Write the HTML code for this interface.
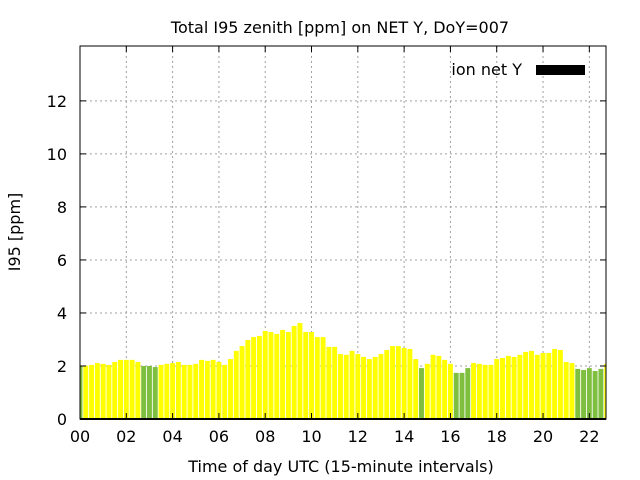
<!DOCTYPE html>
<html><head><meta charset="utf-8"><style>
html,body{margin:0;padding:0;background:#fff}
svg{display:block;font-family:"DejaVu Sans","Liberation Sans",sans-serif}
</style></head><body>
<svg id="chart" width="640" height="480" viewBox="0 0 640 480" xmlns="http://www.w3.org/2000/svg">
<text x="340" y="33" text-anchor="middle" font-size="16" fill="#000">Total I95 zenith [ppm] on NET Y, DoY=007</text>
<text transform="translate(20,232) rotate(-90)" text-anchor="middle" font-size="16" fill="#000">I95 [ppm]</text>
<text x="341" y="472" text-anchor="middle" font-size="16" fill="#000">Time of day UTC (15-minute intervals)</text>
<g id="grid"></g>
<g id="bars"></g>
<g id="axes"></g>
<g>
<text x="522" y="75" text-anchor="end" font-size="16" fill="#000">ion net Y</text>
<rect x="536" y="65" width="49" height="10" fill="#000"/>
</g>
</svg>
<script>
const values = [2.0,2.01,2.04,2.11,2.08,2.04,2.15,2.23,2.23,2.23,2.15,2.0,2.0,1.96,2.04,2.08,2.11,2.15,2.04,2.04,2.08,2.23,2.19,2.23,2.15,2.04,2.26,2.57,2.75,2.98,3.09,
3.13,3.32,3.28,3.21,3.36,3.28,3.51,3.62,3.28,3.28,3.09,3.09,2.72,2.72,2.45,2.42,2.57,2.45,2.34,2.26,2.34,2.45,2.6,2.75,2.75,2.68,2.64,2.26,1.92,
2.08,2.42,2.38,2.23,2.08,1.74,1.74,1.92,2.11,2.08,2.04,2.04,2.26,2.30,2.38,2.34,2.42,2.53,2.57,2.42,2.49,2.49,2.64,2.60,2.15,2.11,1.89,1.85,1.92,1.81,1.89,2.08];
const quality = [0,1,1,1,1,1,1,1,1,1,1,0,0,0,1,1,1,1,1,1,1,1,1,1,1,1,1,1,1,1,1,
1,1,1,1,1,1,1,1,1,1,1,1,1,1,1,1,1,1,1,1,1,1,1,1,1,1,1,1,0,
1,1,1,1,1,0,0,0,1,1,1,1,1,1,1,1,1,1,1,1,1,1,1,1,1,1,0,0,0,0,0,1];
const xTicks = [0,2,4,6,8,10,12,14,16,18,20,22];
const xTickLabels = ["00","02","04","06","08","10","12","14","16","18","20","22"];
const yTicks = [0,2,4,6,8,10,12];
const yTickLabels = ["0","2","4","6","8","10","12"];
const stepHours = 0.25;

const L=80,R=606,T=46,B=419,XMAX=22.72,YMAX=14.07;
const NS="http://www.w3.org/2000/svg";
const xs=h=>L+(h/XMAX)*(R-L);
const ys=v=>B-(v/YMAX)*(B-T);
function mk(tag,attrs,parent){const e=document.createElementNS(NS,tag);for(const k in attrs)e.setAttribute(k,attrs[k]);parent.appendChild(e);return e;}
const grid=document.getElementById('grid'),bars=document.getElementById('bars'),axes=document.getElementById('axes');
xTicks.forEach((t,i)=>{const x=xs(t);
 if(t>0){const g=mk('line',{x1:x,x2:x,y1:T,y2:B,stroke:'#a0a0a0','stroke-width':1,'stroke-dasharray':'2,3'},grid);
 
 }
 const a=mk('line',{x1:x,x2:x,y1:B,y2:B-6,stroke:'#000','stroke-width':1},axes);
 
 
 const b=mk('line',{x1:x,x2:x,y1:T,y2:T+6,stroke:'#000','stroke-width':1},axes);
 
 
 const tx=mk('text',{x:x,y:B+23,'text-anchor':'middle','font-size':16,fill:'#000'},axes);tx.textContent=xTickLabels[i];
 
 
});
yTicks.forEach((t,i)=>{const y=ys(t);
 if(t>0){const g=mk('line',{x1:L,x2:R,y1:y,y2:y,stroke:'#a0a0a0','stroke-width':1,'stroke-dasharray':'2,3'},grid);
 
 }
 const a=mk('line',{x1:L,x2:L+6,y1:y,y2:y,stroke:'#000','stroke-width':1},axes);
 
 
 const b=mk('line',{x1:R,x2:R-6,y1:y,y2:y,stroke:'#000','stroke-width':1},axes);
 
 
 const tx=mk('text',{x:L-13,y:y+6,'text-anchor':'end','font-size':16,fill:'#000'},axes);tx.textContent=yTickLabels[i];
 
 
});
const w=(xs(stepHours)-xs(0))*0.85;
values.forEach((v,i)=>{const c=xs(i*stepHours);let x0=c-w/2,x1=c+w/2;x0=Math.max(x0,L);x1=Math.min(x1,R);
 if(x1<=x0)return;
 const r=mk('rect',{x:x0,y:ys(v),width:x1-x0,height:B-ys(v),fill:quality[i]?'#ffff00':'#7fbf3f'},bars);
 
 
});
const fr=mk('rect',{x:L,y:T,width:R-L,height:B-T,fill:'none',stroke:'#000','stroke-width':1},axes);


const base=mk('line',{x1:L,x2:R,y1:B,y2:B,stroke:'#000','stroke-width':2},axes);


</script>
</body></html>
